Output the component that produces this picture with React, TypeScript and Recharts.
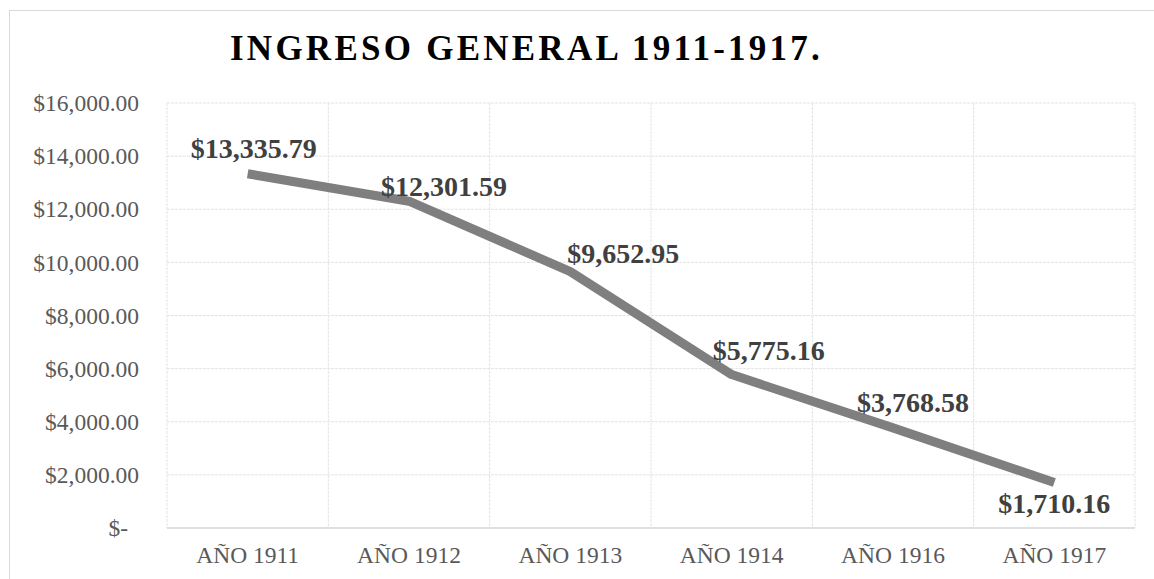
import React from 'react';
import { CartesianGrid, Line, LineChart, XAxis, YAxis } from 'recharts';

const categories = ['AÑO 1911', 'AÑO 1912', 'AÑO 1913', 'AÑO 1914', 'AÑO 1916', 'AÑO 1917'];
const ingreso = [13335.79, 12301.59, 9652.95, 5775.16, 3768.58, 1710.16];
const yTicks = [0, 2000, 4000, 6000, 8000, 10000, 12000, 14000, 16000];

// Desplazamiento manual de cada etiqueta respecto a su punto (x centro, y línea base)
const labelOffsets = [
  [6, -16],
  [35, -5],
  [53, -9],
  [37, -15],
  [20, -16],
  [0, 30],
];

const FONT = '"Liberation Serif", "Times New Roman", serif';

const data = categories.map((name, i) => ({ name, pos: i + 0.5, value: ingreso[i] }));
const centerTicks = categories.map((_, i) => i + 0.5);
const edgeTicks = [0, ...categories.map((_, i) => i + 1)];

const money = (v: number) =>
  v === 0
    ? '$-'
    : '$' + v.toLocaleString('en-US', { minimumFractionDigits: 2, maximumFractionDigits: 2 });

function YTick(props: any) {
  const { x, y, payload } = props;
  const shift = payload.value === 0 ? -11 : 0;
  return (
    <text x={x + shift} y={y} dy="0.35em" textAnchor="end" fill="#595959" fontSize={23.5} fontFamily={FONT}>
      {money(payload.value)}
    </text>
  );
}

function XTick(props: any) {
  const { x, y, payload } = props;
  const idx = Math.round(payload.value - 0.5);
  return (
    <text x={x} y={y} dy="0.71em" textAnchor="middle" fill="#595959" fontSize={23.5} fontFamily={FONT}>
      {categories[idx]}
    </text>
  );
}

function PointLabel(props: any) {
  const { x, y, index, value } = props;
  const [dx, dy] = labelOffsets[index] ?? [0, -12];
  return (
    <text
      x={x + dx}
      y={y + dy}
      textAnchor="middle"
      fill="#404040"
      fontSize={28}
      fontWeight="bold"
      fontFamily={FONT}
    >
      {money(value)}
    </text>
  );
}

export default function App() {
  return (
    <div style={{ position: 'fixed', left: 0, top: 0, width: 1154, height: 579, background: '#fff', overflow: 'hidden' }}>
      <div
        style={{
          position: 'absolute',
          left: 9,
          top: 10,
          width: 1200,
          height: 620,
          borderTop: '1px solid #d9d9d9',
          borderLeft: '1px solid #d9d9d9',
        }}
      />
      <div
        style={{
          position: 'absolute',
          left: 230,
          top: 31,
          fontFamily: FONT,
          fontWeight: 'bold',
          fontSize: 35,
          lineHeight: '35px',
          letterSpacing: 3.25,
          color: '#000',
          whiteSpace: 'nowrap',
        }}
      >
        INGRESO GENERAL 1911-1917.
      </div>
      <div style={{ position: 'absolute', left: 0, top: 0 }}>
        <LineChart width={1154} height={579} data={data} margin={{ top: 103, right: 19, bottom: 0, left: 0 }}>
          <CartesianGrid
            xAxisId="grid"
            stroke="#e3e3e3"
            strokeDasharray="3 1"
          />
          <XAxis
            xAxisId="grid"
            type="number"
            dataKey="pos"
            domain={[0, 6]}
            ticks={edgeTicks}
            hide
          />
          <XAxis
            type="number"
            dataKey="pos"
            domain={[0, 6]}
            ticks={centerTicks}
            interval={0}
            tickLine={false}
            tickSize={0}
            tickMargin={18}
            axisLine={{ stroke: '#d9d9d9', strokeWidth: 1.5 }}
            tick={<XTick />}
            height={51}
          />
          <YAxis
            domain={[0, 16000]}
            ticks={yTicks}
            interval={0}
            axisLine={false}
            tickLine={false}
            tickSize={0}
            tickMargin={28}
            width={167}
            tick={<YTick />}
          />
          <Line
            type="linear"
            dataKey="value"
            stroke="#7f7f7f"
            strokeWidth={9}
            strokeLinejoin="round"
            strokeLinecap="butt"
            dot={false}
            activeDot={false}
            isAnimationActive={false}
            label={<PointLabel />}
          />
        </LineChart>
      </div>
    </div>
  );
}
